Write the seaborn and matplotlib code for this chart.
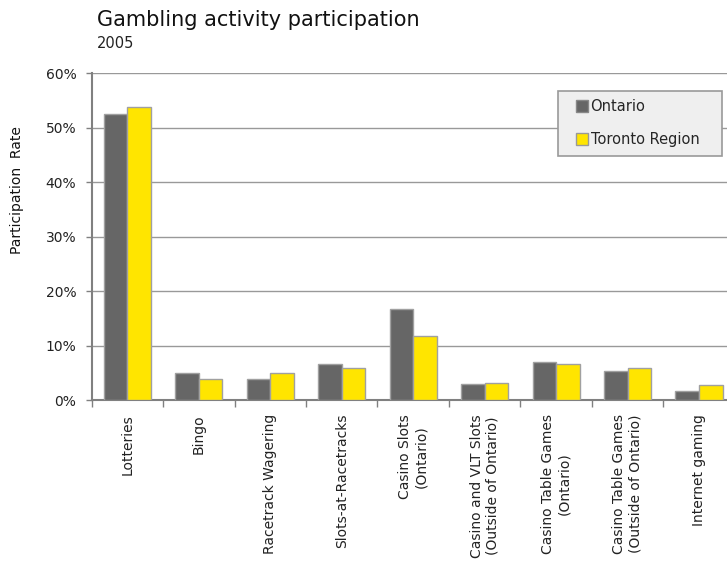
import matplotlib
matplotlib.use("Agg")
import matplotlib.pyplot as plt
import pandas as pd
import seaborn as sns
from matplotlib.lines import Line2D
from matplotlib.ticker import FixedLocator, PercentFormatter

# Participation rates (%) by gambling activity, 2005
categories = [
    "Lotteries",
    "Bingo",
    "Racetrack Wagering",
    "Slots-at-Racetracks",
    "Casino Slots\n(Ontario)",
    "Casino and VLT Slots\n(Outside of Ontario)",
    "Casino Table Games\n(Ontario)",
    "Casino Table Games\n(Outside of Ontario)",
    "Internet gaming",
]
ontario = [52.5, 5.0, 3.9, 6.6, 16.7, 2.9, 6.9, 5.3, 1.7]
toronto = [53.8, 3.9, 5.0, 5.9, 11.7, 3.1, 6.6, 5.9, 2.8]
series_names = ["Ontario", "Toronto Region"]
y_ticks = [0, 10, 20, 30, 40, 50, 60]

df = pd.DataFrame({
    "Activity": categories * 2,
    "Region": [series_names[0]] * len(categories) + [series_names[1]] * len(categories),
    "Rate": ontario + toronto,
})

sns.set_theme(style="white")
plt.rcParams["font.family"] = ["DejaVu Sans"]

grey_dark = "#666666"
yellow = "#FFE500"
axis_grey = "#808080"
palette = {series_names[0]: grey_dark, series_names[1]: yellow}

fig = plt.figure(figsize=(7.27, 5.63), dpi=100)
ax = fig.add_axes([0.1261, 0.2895, 0.8845, 0.5803])

sns.barplot(
    data=df, x="Activity", y="Rate", hue="Region", palette=palette,
    width=0.66, edgecolor="#a0a0a0", linewidth=1.0, saturation=1,
    legend=False, ax=ax, zorder=3,
)

ax.set_ylim(0, 60)
ax.set_xlim(-0.5, len(categories) - 0.5)
ax.yaxis.set_major_locator(FixedLocator(y_ticks))
ax.yaxis.set_major_formatter(PercentFormatter(decimals=0))
ax.grid(axis="y", color="#999999", linewidth=1.0, zorder=0)
ax.grid(axis="x", visible=False)

for side in ["top", "right"]:
    ax.spines[side].set_visible(False)
for side in ["left", "bottom"]:
    ax.spines[side].set_color(axis_grey)
    ax.spines[side].set_linewidth(1.5)

ax.tick_params(axis="y", which="major", direction="out", length=4.5, width=1,
               color=axis_grey, labelsize=10, labelcolor="#222222", pad=6.5, left=True)
ax.tick_params(axis="x", which="major", length=0, labelsize=10,
               labelcolor="#222222", pad=10)
ax.set_xticks(range(len(categories)))
ax.set_xticklabels(categories, rotation=90, ha="center", va="top",
                   multialignment="center")
ax.set_xticks([i - 0.5 for i in range(len(categories) + 1)], minor=True)
ax.tick_params(axis="x", which="minor", direction="out", length=5, width=1,
               color=axis_grey, bottom=True)

ax.set_xlabel("")
ax.set_ylabel("Participation  Rate", fontsize=10, color="#111111")
ax.yaxis.set_label_coords(-0.1053, 0.643)

handles = [
    Line2D([], [], linestyle="none", marker="s", markersize=8,
           markerfacecolor=grey_dark, markeredgecolor="#888888", label=series_names[0]),
    Line2D([], [], linestyle="none", marker="s", markersize=8,
           markerfacecolor=yellow, markeredgecolor="#999999", label=series_names[1]),
]
leg = ax.legend(
    handles=handles, loc="upper left", bbox_to_anchor=(0.7257, 0.947, 0.2541, 0.0),
    mode="expand", fontsize=10.5, frameon=True, fancybox=False,
    handlelength=2.0, handletextpad=-0.39,
    labelspacing=1.2, borderpad=0.6, borderaxespad=0,
)
leg.get_frame().set_facecolor("#efefef")
leg.get_frame().set_edgecolor("#999999")
leg.get_frame().set_linewidth(1.2)
leg.get_frame().set_alpha(1)
leg.set_zorder(5)

fig.text(0.133, 0.953, "Gambling activity participation", fontsize=15,
         color="#111111", ha="left", va="baseline")
fig.text(0.133, 0.9155, "2005", fontsize=10.5, color="#222222",
         ha="left", va="baseline")

fig.savefig("out.png", dpi=100)
